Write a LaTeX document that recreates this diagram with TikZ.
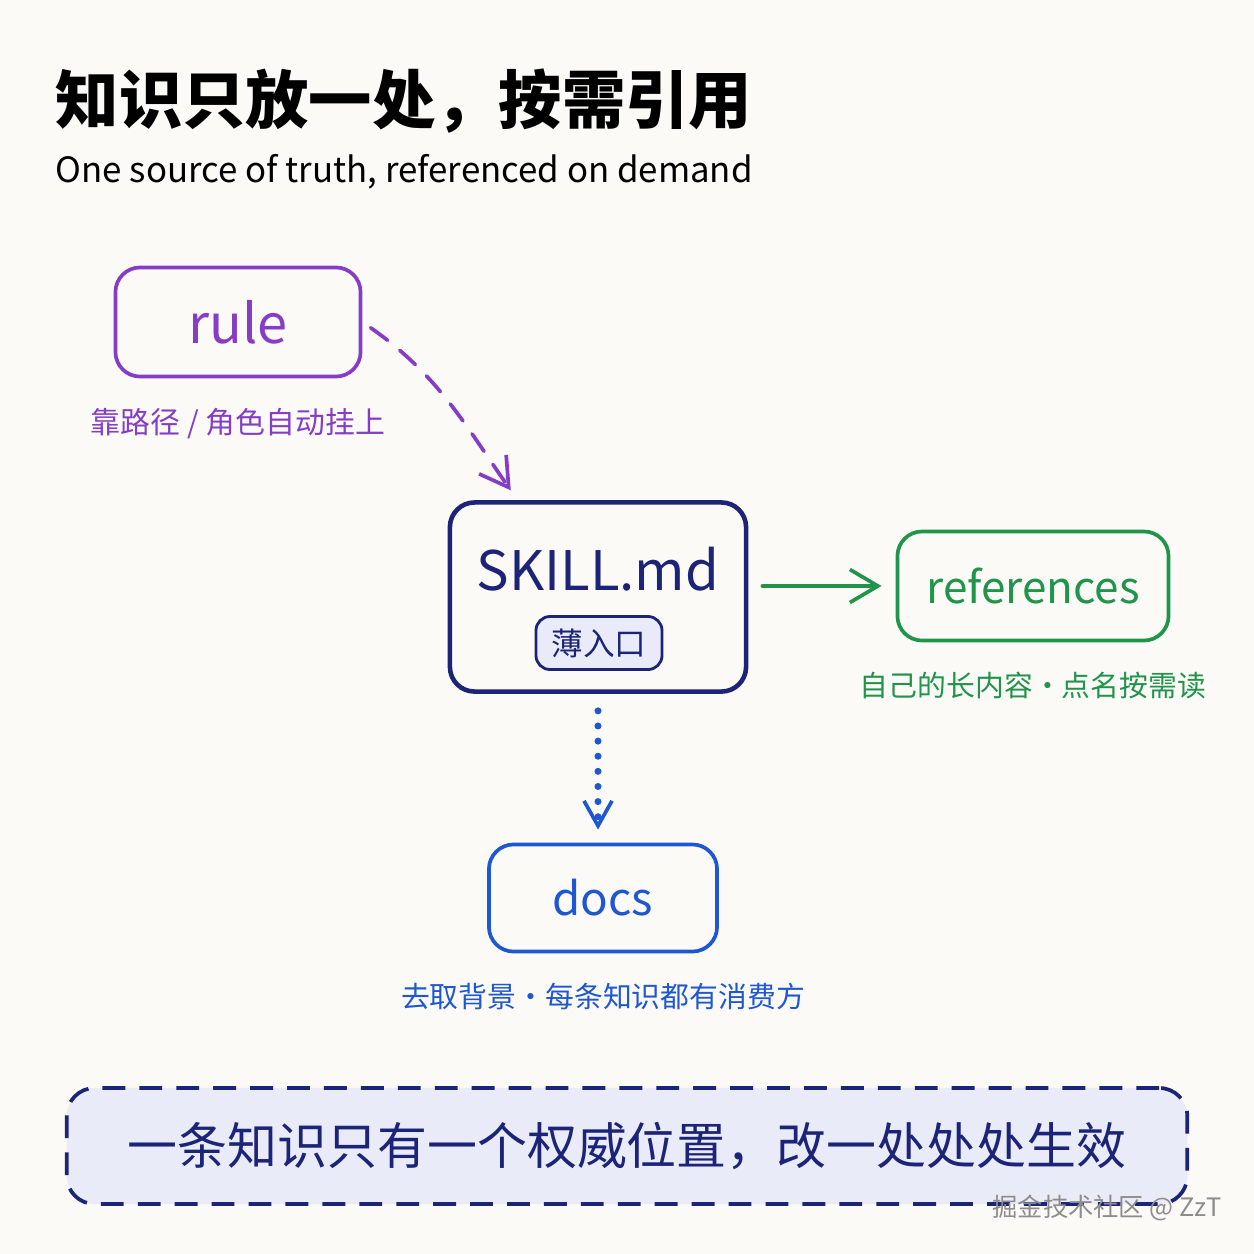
\documentclass[tikz,border=0pt]{standalone}
\usepackage{fontspec}
\setmainfont{Noto Sans CJK SC}
\usetikzlibrary{arrows.meta, positioning}
\definecolor{Paper}{rgb}{0.984, 0.980, 0.965}
\definecolor{RulePurple}{rgb}{0.52, 0.24, 0.78}
\definecolor{SkillNavy}{rgb}{0.11, 0.14, 0.47}
\definecolor{RefGreen}{rgb}{0.12, 0.58, 0.29}
\definecolor{DocBlue}{rgb}{0.12, 0.34, 0.82}
\definecolor{Lavender}{rgb}{0.915, 0.922, 0.973}

\begin{document}
\begin{tikzpicture}[
    x=0.01cm, y=-0.01cm,
    card/.style={draw=#1, line width=1.05pt, rounded corners=7pt,
        text=#1, align=center, font=\fontsize{13}{16}\selectfont},
    note/.style={text=#1, font=\fontsize{8.2}{10}\selectfont, inner sep=2pt},
    flow/.style={-{Straight Barb[length=2.8mm, width=3.3mm]},
        line width=1.05pt, line cap=round, #1},
]

% fondo
\fill[Paper] (0,0) rectangle (1254,1254);

% titulo
\node[anchor=west, inner sep=0pt, font=\bfseries\fontsize{18}{22}\selectfont] (title)
    at (55,101) {知识只放一处，按需引用};
\node[anchor=west, inner sep=0pt, font=\fontsize{9.9}{12}\selectfont] (subtitle)
    at (55,172) {One source of truth, referenced on demand};

% nodos principales
\node[card=RulePurple, minimum width=2.45cm, minimum height=1.09cm,
      font=\fontsize{15.4}{18}\selectfont] (rule) at (238,322) {rule};
\node[card=SkillNavy, line width=1.3pt, minimum width=2.96cm, minimum height=1.89cm] (skill)
    at (598,597) {};
\node[text=SkillNavy, font=\fontsize{15.5}{18}\selectfont] (skilltxt) at (598,569) {SKILL.md};
\node[draw=SkillNavy, line width=0.8pt, fill=Lavender, rounded corners=4pt,
      minimum width=1.26cm, minimum height=0.53cm, text=SkillNavy,
      font=\fontsize{9}{11}\selectfont] (entry) at (599,643) {薄入口};
\node[card=RefGreen, minimum width=2.71cm, minimum height=1.09cm,
      font=\fontsize{12.5}{15}\selectfont] (refs) at (1033,586) {references};
\node[card=DocBlue, minimum width=2.28cm, minimum height=1.07cm] (docs)
    at (603,898) {docs};

% etiquetas
\node[note=RulePurple, font=\fontsize{8.5}{10}\selectfont, below=0.22cm of rule] (rulenote)
    {靠路径 / 角色自动挂上};
\node[note=RefGreen, below=0.22cm of refs] (refsnote) {自己的长内容·点名按需读};
\node[note=DocBlue, below=0.22cm of docs] (docsnote) {去取背景·每条知识都有消费方};

% flujos
\draw[flow=RulePurple, dash pattern=on 6pt off 4.5pt, shorten <=1mm, shorten >=1.2mm]
    (rule.east) to[out=-35, in=125] ([xshift=0.7cm]skill.north west);
\draw[flow=RefGreen, shorten <=1.4mm, shorten >=1.4mm] (skill.east |- refs.west) -- (refs.west);
\draw[flow=DocBlue, dash pattern=on 0pt off 4.3pt, line width=2pt, shorten <=1.7mm, shorten >=1.3mm,
      -{Straight Barb[length=2.5mm, width=2.8mm, line width=1.05pt]}]
    (skill.south) -- (skill.south |- docs.north);

% mensaje final
\node[draw=SkillNavy, line width=1.05pt, dash pattern=on 6.5pt off 4pt, fill=Lavender,
      rounded corners=8pt, minimum width=11.2cm, minimum height=1.16cm, text=SkillNavy,
      font=\fontsize{14.2}{17}\selectfont] (motto) at (627,1146) {一条知识只有一个权威位置，改一处处处生效};
\node[anchor=east, inner sep=0pt, text=black!45, font=\fontsize{7.2}{9}\selectfont] (mark)
    at (1222,1208) {掘金技术社区 @ ZzT};

\end{tikzpicture}
\end{document}
